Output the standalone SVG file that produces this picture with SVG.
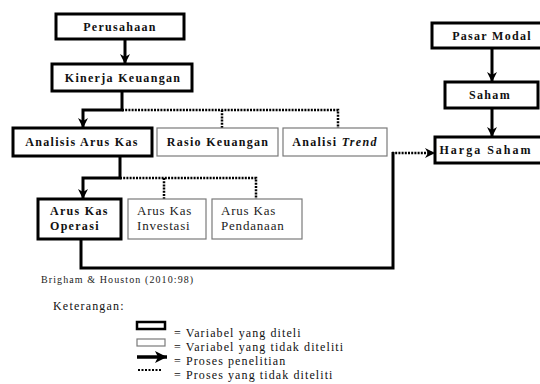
<svg xmlns="http://www.w3.org/2000/svg" width="540" height="384" viewBox="0 0 540 384">
<style>
.thick{fill:#fff;stroke:#000;stroke-width:3}
.thin{fill:#fff;stroke:#7a7a7a;stroke-width:1.2}
.b{font-family:"Liberation Serif","Times New Roman",serif;font-weight:bold;font-size:12px;letter-spacing:1.3px;fill:#111}
.r{font-family:"Liberation Serif","Times New Roman",serif;font-size:13px;letter-spacing:0.8px;fill:#222}
.s{font-family:"Liberation Serif","Times New Roman",serif;font-size:10px;letter-spacing:1.1px;fill:#222}
.l{font-family:"Liberation Serif","Times New Roman",serif;font-size:12px;letter-spacing:1.1px;fill:#111}
.solid{fill:none;stroke:#000;stroke-width:3}
.dot{fill:none;stroke:#000;stroke-width:2.5;stroke-dasharray:2 1.2}
</style>
<defs>
<marker id="ah" markerWidth="10" markerHeight="10" refX="10" refY="5" orient="auto" markerUnits="userSpaceOnUse">
<path d="M0,0 L10,5 L0,10 L3,5 z" fill="#000"/>
</marker>
<marker id="ahl" markerWidth="12" markerHeight="12" refX="12" refY="6" orient="auto" markerUnits="userSpaceOnUse">
<path d="M0,0 L12,6 L0,12 L3,6 z" fill="#000"/>
</marker>
</defs>
<rect width="540" height="384" fill="#fff"/>

<g id="connectors">
<path class="solid" d="M125,39 V64" marker-end="url(#ah)"/>
<path class="dot" d="M122,110 H338 V128"/>
<path class="dot" d="M222,110 V128"/>
<path class="solid" d="M122,91 V110 H83 V128" marker-end="url(#ah)"/>
<path class="dot" d="M120,178 H256 V199"/>
<path class="dot" d="M164,178 V199"/>
<path class="solid" d="M120,156 V178 H83 V199" marker-end="url(#ah)"/>
<path class="solid" d="M81,239 V268 H393 V152"/>
<path class="dot" d="M392,153 H435" stroke-width="2" marker-end="url(#ah)"/>
<path class="solid" d="M492,48 V82" marker-end="url(#ah)"/>
<path class="solid" d="M492,108 V137" marker-end="url(#ah)"/>
</g>

<g id="perusahaan">
<rect class="thick" x="56" y="14" width="128" height="25"/>
<text class="b" x="120" y="31" text-anchor="middle">Perusahaan</text>
</g>
<g id="kinerja">
<rect class="thick" x="52" y="64" width="140" height="27"/>
<text class="b" x="123" y="82" text-anchor="middle">Kinerja Keuangan</text>
</g>
<g id="analisis-arus-kas">
<rect class="thick" x="13" y="128" width="139" height="28"/>
<text class="b" x="82" y="146" text-anchor="middle">Analisis Arus Kas</text>
</g>
<g id="rasio">
<rect class="thin" x="157" y="128" width="121" height="28"/>
<text class="b" x="218" y="146" text-anchor="middle">Rasio Keuangan</text>
</g>
<g id="trend">
<rect class="thin" x="283" y="128" width="104" height="28"/>
<text class="b" x="335" y="146" text-anchor="middle">Analisi <tspan font-style="italic">Trend</tspan></text>
</g>
<g id="operasi">
<rect class="thick" x="38" y="199" width="83" height="40"/>
<text class="b" x="50" y="215">Arus Kas</text>
<text class="b" x="50" y="230">Operasi</text>
</g>
<g id="investasi">
<rect class="thin" x="128" y="199" width="78" height="40"/>
<text class="r" x="137" y="215">Arus Kas</text>
<text class="r" x="137" y="230">Investasi</text>
</g>
<g id="pendanaan">
<rect class="thin" x="212" y="199" width="90" height="40"/>
<text class="r" x="221" y="215">Arus Kas</text>
<text class="r" x="221" y="230">Pendanaan</text>
</g>
<g id="pasar-modal">
<rect class="thick" x="432" y="23" width="120" height="25"/>
<text class="b" x="492" y="40" text-anchor="middle">Pasar Modal</text>
</g>
<g id="saham">
<rect class="thick" x="445" y="82" width="93" height="26"/>
<text class="b" x="490" y="99" text-anchor="middle">Saham</text>
</g>
<g id="harga-saham">
<rect class="thick" x="435" y="137" width="120" height="26"/>
<text class="b" x="486" y="154" text-anchor="middle" style="letter-spacing:2px">Harga Saham</text>
</g>

<text class="s" x="41" y="283">Brigham &amp; Houston (2010:98)</text>
<text class="l" x="53" y="310" style="letter-spacing:1.2px">Keterangan:</text>

<g id="legend">
<rect x="137" y="322" width="28" height="7" fill="#fff" stroke="#000" stroke-width="2.5"/>
<rect x="137" y="339" width="28" height="7" fill="#fff" stroke="#7a7a7a" stroke-width="1.2"/>
<path d="M137,357 H167" stroke="#000" stroke-width="3.5" fill="none" marker-end="url(#ahl)"/>
<path d="M138,370 H162" stroke="#000" stroke-width="2" stroke-dasharray="2 1.5" fill="none"/>
<text class="l" x="174" y="337">= Variabel yang diteli</text>
<text class="l" x="174" y="351">= Variabel yang tidak diteliti</text>
<text class="l" x="174" y="365">= Proses penelitian</text>
<text class="l" x="174" y="379">= Proses yang tidak diteliti</text>
</g>
</svg>
